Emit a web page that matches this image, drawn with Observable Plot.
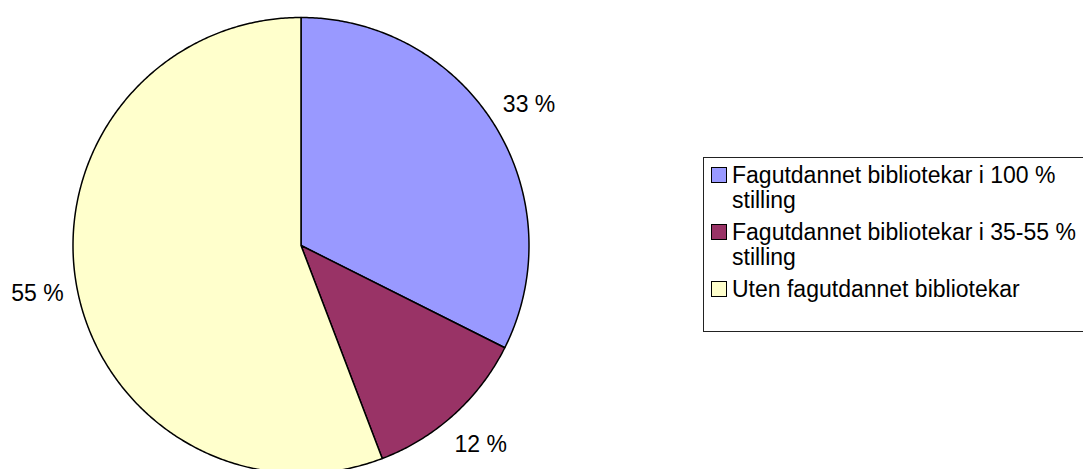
<!DOCTYPE html>
<html>
<head>
<meta charset="utf-8">
<script src="https://cdn.jsdelivr.net/npm/d3@7"></script>
<script src="https://cdn.jsdelivr.net/npm/@observablehq/plot@0.6"></script>
<style>
  html, body { margin: 0; padding: 0; background: #fff; overflow: hidden; }
  #wrap { position: relative; width: 1083px; height: 469px; overflow: hidden; font-family: "Liberation Sans", Arial, sans-serif; }
  #legend { position: absolute; left: 703px; top: 157px; width: 420px; height: 175px; border: 1px solid #222; box-sizing: border-box; padding: 5px 0 0 7px; background: #fff; }
  .item { display: flex; align-items: flex-start; margin-bottom: 7px; }
  .sw { width: 16px; height: 16px; box-sizing: border-box; border: 1px solid #000; margin-top: 4px; margin-right: 5px; flex: none; }
  .txt { font-size: 23px; line-height: 25px; color: #000; white-space: nowrap; }
</style>
</head>
<body>
<div id="wrap"><div id="legend"></div></div>
<script>
const categories = [
  "Fagutdannet bibliotekar i 100 % stilling",
  "Fagutdannet bibliotekar i 35-55 % stilling",
  "Uten fagutdannet bibliotekar"
];
const legendLines = [
  ["Fagutdannet bibliotekar i 100 %", "stilling"],
  ["Fagutdannet bibliotekar i 35-55 %", "stilling"],
  ["Uten fagutdannet bibliotekar"]
];
const values = [32.4, 11.8, 55.8];
const labels = ["33 %", "12 %", "55 %"];
const colors = ["#9999FF", "#993366", "#FFFFCC"];

const W = 1083, H = 469, R = 228, cx = 300.5, cy = 245;
const total = d3.sum(values);
let acc = 0;
const slices = values.map((v, i) => {
  const a0 = acc / total * 2 * Math.PI;
  acc += v;
  const a1 = acc / total * 2 * Math.PI;
  const pts = [{x: 0, y: 0}];
  const n = Math.max(2, Math.ceil((a1 - a0) / (Math.PI / 360)));
  for (let k = 0; k <= n; k++) {
    const a = a0 + (a1 - a0) * k / n;
    pts.push({x: Math.sin(a), y: Math.cos(a)});
  }
  pts.push({x: 0, y: 0});
  const am = (a0 + a1) / 2;
  const lr = (R + 40) / R;
  return {category: categories[i], color: colors[i], points: pts,
          label: {x: lr * Math.sin(am), y: lr * Math.cos(am), text: labels[i]}};
});

const chart = Plot.plot({
  width: W,
  height: H,
  margin: 0,
  style: {fontFamily: "'Liberation Sans', Arial, sans-serif", background: "transparent"},
  x: {domain: [-cx / R, (W - cx) / R], range: [0, W], axis: null},
  y: {domain: [-(H - cy) / R, cy / R], range: [H, 0], axis: null},
  marks: [
    ...slices.map(s => Plot.line(s.points, {x: "x", y: "y", fill: s.color, stroke: "#000", strokeWidth: 1.5})),
    Plot.text(slices.map(s => s.label), {x: "x", y: "y", text: "text", fontSize: 23, fill: "#000"})
  ]
});
const wrap = document.getElementById("wrap");
wrap.insertBefore(chart, wrap.firstChild);

const legend = document.getElementById("legend");
legendLines.forEach((lines, i) => {
  const item = document.createElement("div");
  item.className = "item";
  const sw = document.createElement("div");
  sw.className = "sw";
  sw.style.background = colors[i];
  const txt = document.createElement("div");
  txt.className = "txt";
  lines.forEach((l, j) => {
    if (j > 0) txt.appendChild(document.createElement("br"));
    txt.appendChild(document.createTextNode(l));
  });
  item.appendChild(sw);
  item.appendChild(txt);
  legend.appendChild(item);
});
</script>
</body>
</html>
